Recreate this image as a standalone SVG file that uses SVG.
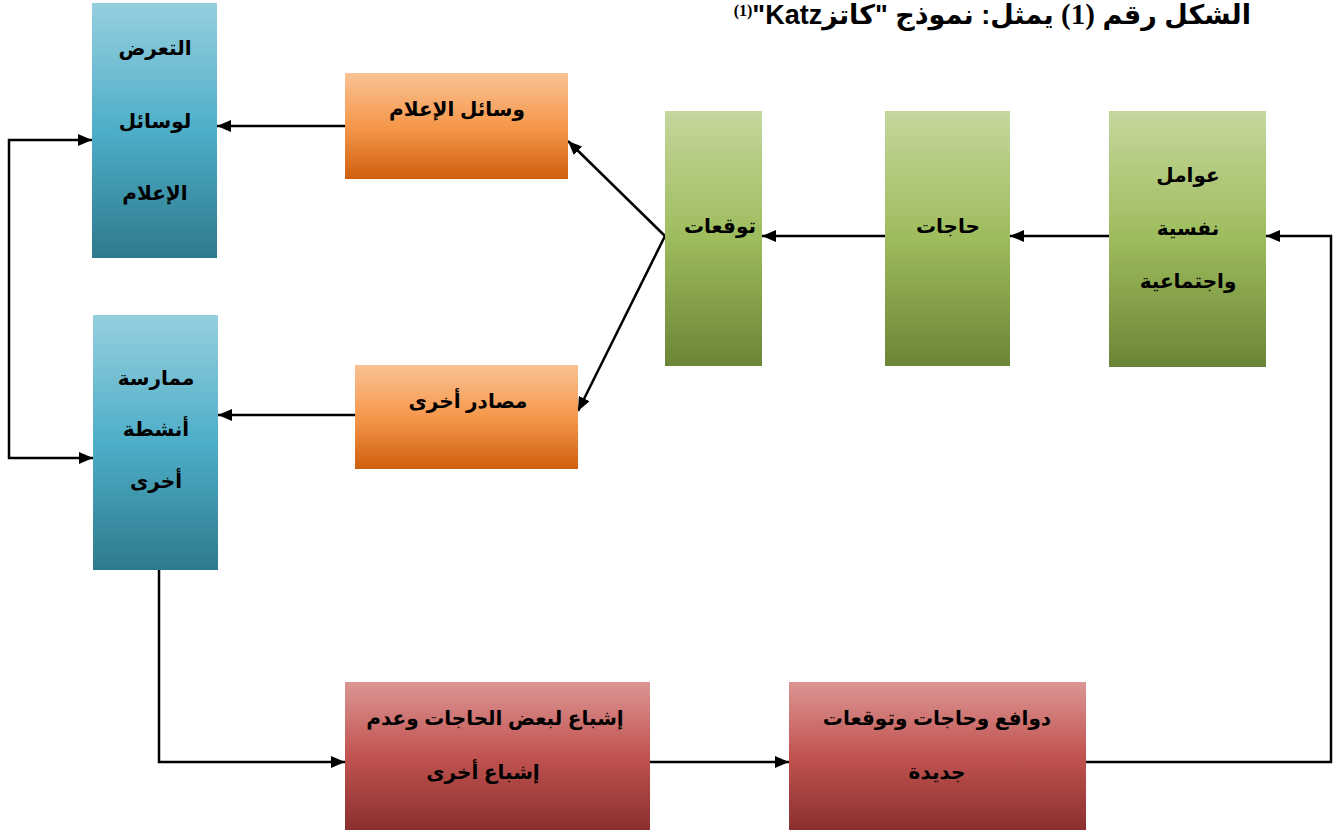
<svg xmlns="http://www.w3.org/2000/svg" width="1341" height="832" viewBox="0 0 1341 832">
  <defs>
    <linearGradient id="gBlue" x1="0" y1="0" x2="0" y2="1">
      <stop offset="0" stop-color="#96CFDF"/>
      <stop offset="0.5" stop-color="#4EAEC8"/>
      <stop offset="1" stop-color="#2E7A8D"/>
    </linearGradient>
    <linearGradient id="gOrange" x1="0" y1="0" x2="0" y2="1">
      <stop offset="0" stop-color="#F9C293"/>
      <stop offset="0.5" stop-color="#F6984C"/>
      <stop offset="1" stop-color="#CF5F0D"/>
    </linearGradient>
    <linearGradient id="gGreen" x1="0" y1="0" x2="0" y2="1">
      <stop offset="0" stop-color="#C5D79D"/>
      <stop offset="0.5" stop-color="#9DBC5C"/>
      <stop offset="1" stop-color="#6B8536"/>
    </linearGradient>
    <linearGradient id="gRed" x1="0" y1="0" x2="0" y2="1">
      <stop offset="0" stop-color="#DB9694"/>
      <stop offset="0.5" stop-color="#C15350"/>
      <stop offset="1" stop-color="#8A302E"/>
    </linearGradient>
    <marker id="arrow" markerUnits="userSpaceOnUse" markerWidth="14" markerHeight="12" refX="14" refY="6" orient="auto">
      <path d="M0,0 L14,6 L0,12 z" fill="#000"/>
    </marker>
  </defs>
  <style>
    .lbl { font-family: "Liberation Sans", "DejaVu Sans", sans-serif; font-weight: bold; font-size: 20px; fill: #000; text-anchor: middle; }
    .title { font-family: "Liberation Sans", "DejaVu Sans", sans-serif; font-weight: bold; font-size: 27px; fill: #000; }
    .num { font-family: "Liberation Serif", serif; font-size: 29px; }
    .sup { font-family: "Liberation Serif", serif; font-size: 16px; }
    .conn { fill: none; stroke: #000; stroke-width: 2.5; }
    .arr { marker-end: url(#arrow); }
  </style>

  <rect width="1341" height="832" fill="#fff"/>

  <!-- heading -->
  <text class="title" x="1251" y="24" direction="rtl" unicode-bidi="embed" text-anchor="start">الشكل رقم <tspan class="num">(1)</tspan> يمثل: نموذج "كاتزKatz"&#x200F;<tspan class="sup" baseline-shift="super">(1)</tspan></text>

  <!-- connectors -->
  <g id="connectors">
    <path class="conn arr" d="M345,126 H217"/>
    <path class="conn arr" d="M355,415 H218"/>
    <path class="conn arr" d="M665,236 L568,141"/>
    <path class="conn arr" d="M665,236 L578,411"/>
    <path class="conn arr" d="M885,236 H762"/>
    <path class="conn arr" d="M1109,236 H1010"/>
    <path class="conn arr" d="M1086,762 H1331 V236 H1266"/>
    <path class="conn arr" d="M9,300 V140 H92"/>
    <path class="conn arr" d="M9,300 V458 H93"/>
    <path class="conn arr" d="M159,570 V762 H345"/>
    <path class="conn arr" d="M650,762 H789"/>
  </g>

  <!-- nodes -->
  <g id="exposure">
    <rect x="92" y="3" width="125" height="255" fill="url(#gBlue)"/>
    <text class="lbl" x="155" y="55">التعرض</text>
    <text class="lbl" x="155" y="128">لوسائل</text>
    <text class="lbl" x="155" y="200">الإعلام</text>
  </g>
  <g id="activities">
    <rect x="93" y="315" width="125" height="255" fill="url(#gBlue)"/>
    <text class="lbl" x="156" y="385">ممارسة</text>
    <text class="lbl" x="156" y="436">أنشطة</text>
    <text class="lbl" x="156" y="488">أخرى</text>
  </g>
  <g id="media">
    <rect x="345" y="73" width="223" height="106" fill="url(#gOrange)"/>
    <text class="lbl" x="457" y="116">وسائل الإعلام</text>
  </g>
  <g id="sources">
    <rect x="355" y="365" width="223" height="104" fill="url(#gOrange)"/>
    <text class="lbl" x="468" y="408">مصادر أخرى</text>
  </g>
  <g id="expectations">
    <rect x="665" y="111" width="97" height="255" fill="url(#gGreen)"/>
    <text class="lbl" x="720" y="233">توقعات</text>
  </g>
  <g id="needs">
    <rect x="885" y="111" width="125" height="255" fill="url(#gGreen)"/>
    <text class="lbl" x="948" y="233">حاجات</text>
  </g>
  <g id="factors">
    <rect x="1109" y="111" width="157" height="256" fill="url(#gGreen)"/>
    <text class="lbl" x="1188" y="182">عوامل</text>
    <text class="lbl" x="1188" y="235">نفسية</text>
    <text class="lbl" x="1188" y="288">واجتماعية</text>
  </g>
  <g id="gratification">
    <rect x="345" y="682" width="305" height="148" fill="url(#gRed)"/>
    <text class="lbl" x="495" y="725">إشباع لبعض الحاجات وعدم</text>
    <text class="lbl" x="483" y="779">إشباع أخرى</text>
  </g>
  <g id="new-motives">
    <rect x="789" y="682" width="297" height="148" fill="url(#gRed)"/>
    <text class="lbl" x="937" y="725">دوافع وحاجات وتوقعات</text>
    <text class="lbl" x="937" y="779">جديدة</text>
  </g>
</svg>
